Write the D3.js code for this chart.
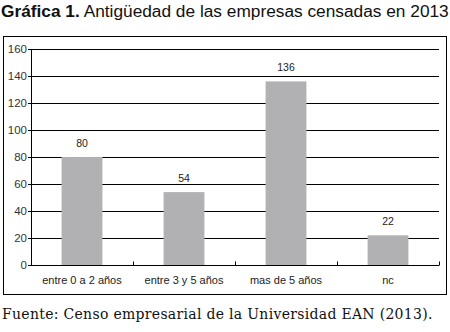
<!DOCTYPE html>
<html>
<head>
<meta charset="utf-8">
<script src="https://cdn.jsdelivr.net/npm/d3@7"></script>
<style>
  body { margin: 0; background: #fff; }
  svg { display: block; }
</style>
</head>
<body>
<div id="chart"></div>
<script>
var categories = ["entre 0 a 2 años", "entre 3 y 5 años", "mas de 5 años", "nc"];
var values = [80, 54, 136, 22];
var y_ticks = [0, 20, 40, 60, 80, 100, 120, 140, 160];

var width = 450, height = 332;
var margin = { top: 49, right: 11, bottom: 67, left: 31 };
var plot_w = width - margin.left - margin.right;
var plot_h = height - margin.top - margin.bottom;

var svg = d3.select("#chart")
    .append("svg")
    .attr("width", width)
    .attr("height", height);

// Title
var title = svg.append("text")
    .attr("x", 1)
    .attr("y", 17)
    .style("font-family", "'Liberation Sans', Arial, sans-serif")
    .style("font-size", "17.3px")
    .attr("fill", "#111");
title.append("tspan").style("font-weight", "bold").text("Gráfica 1.");
title.append("tspan").text(" Antigüedad de las empresas censadas en 2013");

// Frame
svg.append("rect")
    .attr("x", 3.5)
    .attr("y", 36.5)
    .attr("width", 443)
    .attr("height", 258)
    .attr("fill", "none")
    .attr("stroke", "#000")
    .attr("stroke-width", 1);

var x = d3.scaleBand()
    .domain(categories)
    .range([0, plot_w])
    .paddingInner(0.6)
    .paddingOuter(0.3);

var y = d3.scaleLinear()
    .domain([0, 160])
    .range([plot_h, 0]);

var g = svg.append("g")
    .attr("transform", "translate(" + margin.left + "," + margin.top + ")");

// Gridlines
g.selectAll("line.grid")
    .data(y_ticks)
    .enter()
    .append("line")
    .attr("class", "grid")
    .attr("x1", -3)
    .attr("x2", plot_w)
    .attr("y1", d => Math.round(y(d)) + 0.5)
    .attr("y2", d => Math.round(y(d)) + 0.5)
    .attr("stroke", "#000")
    .attr("stroke-width", 1);

// Y axis line
g.append("line")
    .attr("x1", 0.5).attr("x2", 0.5)
    .attr("y1", Math.round(y(160)) + 0.5)
    .attr("y2", Math.round(y(0)) + 0.5)
    .attr("stroke", "#000");

// Y labels
g.selectAll("text.ylab")
    .data(y_ticks)
    .enter()
    .append("text")
    .attr("class", "ylab")
    .attr("x", -4)
    .attr("y", d => y(d))
    .attr("dy", "0.35em")
    .attr("text-anchor", "end")
    .style("font-family", "'Liberation Sans', Arial, sans-serif")
    .style("font-size", "11.5px")
    .attr("fill", "#333")
    .text(d => d);

// Category ticks
var band_step = x.step();
g.selectAll("line.xtick")
    .data(categories)
    .enter()
    .append("line")
    .attr("class", "xtick")
    .attr("x1", d => Math.round(x(d) + x.bandwidth() / 2 + band_step / 2) + 0.5)
    .attr("x2", d => Math.round(x(d) + x.bandwidth() / 2 + band_step / 2) + 0.5)
    .attr("y1", Math.round(y(0)) + 0.5)
    .attr("y2", Math.round(y(0)) - 3.5)
    .attr("stroke", "#000");

// Bars
g.selectAll("rect.bar")
    .data(values)
    .enter()
    .append("rect")
    .attr("class", "bar")
    .attr("x", (d, i) => x(categories[i]))
    .attr("y", d => y(d))
    .attr("width", x.bandwidth())
    .attr("height", d => y(0) - y(d))
    .attr("fill", "#b1b1b3");

// Value labels
g.selectAll("text.val")
    .data(values)
    .enter()
    .append("text")
    .attr("class", "val")
    .attr("x", (d, i) => x(categories[i]) + x.bandwidth() / 2)
    .attr("y", d => y(d) - 10)
    .attr("text-anchor", "middle")
    .style("font-family", "'Liberation Sans', Arial, sans-serif")
    .style("font-size", "10.5px")
    .attr("fill", "#222")
    .text(d => d);

// Category labels
g.selectAll("text.cat")
    .data(categories)
    .enter()
    .append("text")
    .attr("class", "cat")
    .attr("x", d => x(d) + x.bandwidth() / 2)
    .attr("y", plot_h + 19)
    .attr("text-anchor", "middle")
    .style("font-family", "'Liberation Sans', Arial, sans-serif")
    .style("font-size", "11px")
    .attr("fill", "#222")
    .text(d => d);

// Source
svg.append("text")
    .attr("x", 2)
    .attr("y", 319)
    .style("font-family", "'DejaVu Serif', serif")
    .style("font-size", "14px")
    .style("letter-spacing", "0.3px")
    .attr("fill", "#111")
    .text("Fuente: Censo empresarial de la Universidad EAN (2013).");
</script>
</body>
</html>
